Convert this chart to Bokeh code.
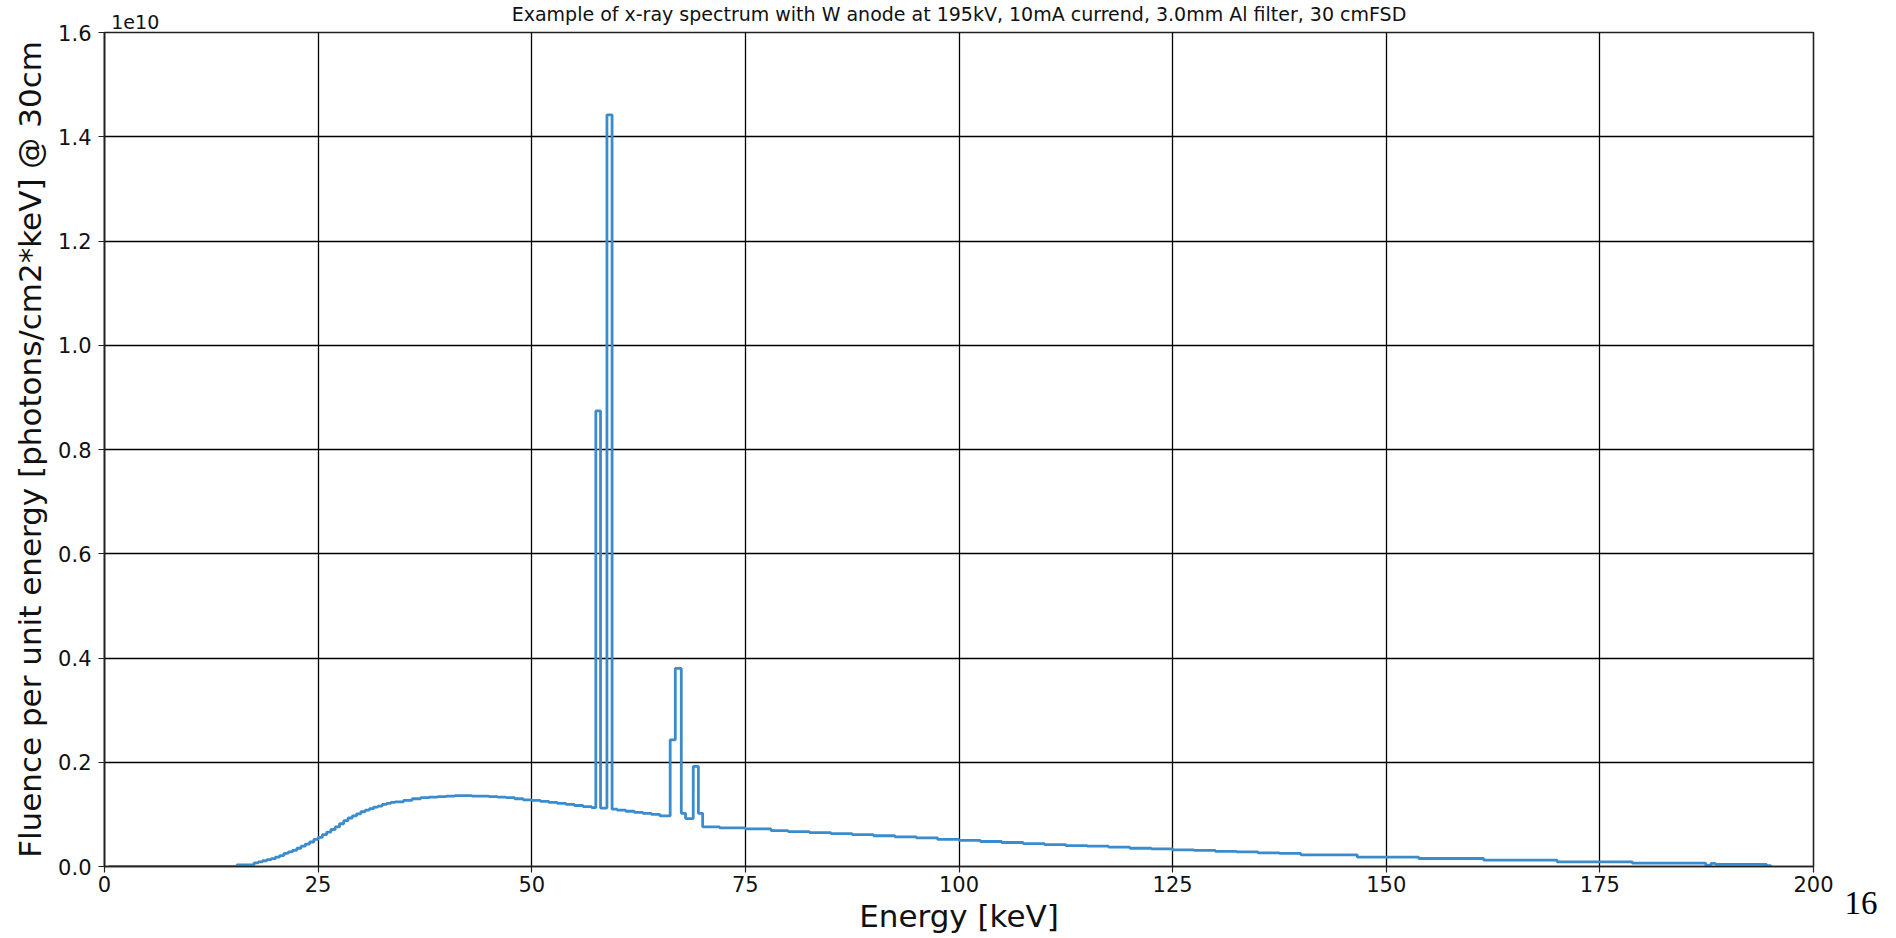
from bokeh.plotting import figure
from bokeh.models import Range1d, FixedTicker, LinearAxis, PrintfTickFormatter
from bokeh.embed import file_html
from bokeh.resources import INLINE

# ---- data (bin left edges in keV, fluence in units of 1e10 photons/cm2*keV) ----
energy_keV = [0.5, 15.5, 17.5, 18, 18.5, 19, 19.5, 20, 20.5, 21, 21.5, 22, 22.5, 23,
              23.5, 24, 24.5, 25, 25.5, 26, 26.5, 27, 27.5, 28, 28.5, 29, 29.5, 30,
              30.5, 31, 31.5, 32, 32.5, 33, 33.5, 34, 35, 36, 37, 38, 39, 40, 41, 42,
              43, 44, 45, 46, 47, 48, 49, 50, 51, 52, 53, 54, 55, 56, 57, 57.5, 58.05,
              58.8, 59.4, 60, 61, 62, 63, 64, 65, 66.2, 66.8, 67.5, 68, 68.9, 69.5,
              70, 72, 75, 78, 80, 82.5, 85, 87.5, 90, 92.5, 95, 97.5, 100, 102.5, 105,
              107.5, 110, 112.5, 115, 117.5, 120, 122.5, 125, 127.5, 130, 132.5, 135,
              137.5, 140, 146.6, 153.8, 161.4, 170, 178.8, 187.4, 188, 188.5, 194.5, 195]
fluence_1e10 = [0.0, 0.003, 0.007, 0.009, 0.011, 0.013, 0.015, 0.018, 0.021, 0.025,
                0.028, 0.031, 0.035, 0.039, 0.043, 0.047, 0.052, 0.056, 0.061, 0.066,
                0.071, 0.076, 0.082, 0.088, 0.093, 0.097, 0.101, 0.105, 0.108, 0.111,
                0.114, 0.116, 0.119, 0.121, 0.123, 0.124, 0.127, 0.130, 0.132, 0.133,
                0.134, 0.135, 0.136, 0.136, 0.135, 0.135, 0.134, 0.133, 0.132, 0.130,
                0.128, 0.127, 0.125, 0.123, 0.121, 0.119, 0.117, 0.115, 0.113, 0.874,
                0.112, 1.442, 0.110, 0.108, 0.106, 0.104, 0.102, 0.100, 0.097, 0.243,
                0.380, 0.102, 0.092, 0.192, 0.102, 0.076, 0.074, 0.072, 0.069, 0.067,
                0.065, 0.063, 0.061, 0.059, 0.057, 0.055, 0.052, 0.050, 0.048, 0.046,
                0.044, 0.042, 0.040, 0.039, 0.037, 0.035, 0.034, 0.032, 0.031, 0.029,
                0.028, 0.026, 0.025, 0.0224, 0.018, 0.0153, 0.0121, 0.009, 0.0064,
                0.002, 0.006, 0.0042, 0.0015, 0.0]

x_ticks = [0, 25, 50, 75, 100, 125, 150, 175, 200]
y_ticks = [0.0, 0.2, 0.4, 0.6, 0.8, 1.0, 1.2, 1.4, 1.6]

title_text = "Example of x-ray spectrum with W anode at 195kV, 10mA currend, 3.0mm Al filter, 30 cmFSD"
x_label = "Energy [keV]"
y_label = "Fluence per unit energy [photons/cm2*keV] @ 30cm"
offset_text = "1e10"
page_number = "16"

FONT = "DejaVu Sans"

p = figure(width=1880, height=938,
           x_range=Range1d(0, 200), y_range=Range1d(0, 1.6),
           output_backend="svg", toolbar_location=None,
           min_border_left=104, min_border_right=65, min_border_top=32,
           min_border_bottom=72)

p.background_fill_color = "white"
p.border_fill_color = "white"
p.outline_line_color = "#222222"
p.outline_line_width = 1.6

p.step(energy_keV, fluence_1e10, mode="after", line_color="#3a8ccc", line_width=2.8)

for ax in (p.xaxis[0], p.yaxis[0]):
    ax.axis_line_color = "#222222"
    ax.axis_line_width = 1.6
    ax.major_tick_line_color = "#222222"
    ax.major_tick_line_width = 1.2
    ax.major_tick_out = 6
    ax.major_tick_in = 0
    ax.minor_tick_line_color = None
    ax.major_label_text_font = FONT
    ax.major_label_text_font_size = "21px"
    ax.major_label_text_color = "#111111"
    ax.axis_label_text_font = FONT
    ax.axis_label_text_font_size = "31px"
    ax.axis_label_text_font_style = "normal"
    ax.axis_label_text_color = "#111111"

p.xaxis[0].ticker = FixedTicker(ticks=x_ticks)
p.yaxis[0].ticker = FixedTicker(ticks=y_ticks)
p.yaxis[0].formatter = PrintfTickFormatter(format="%.1f")
p.xaxis[0].axis_label = x_label
p.yaxis[0].axis_label = y_label
p.xaxis[0].major_label_standoff = 3
p.yaxis[0].major_label_standoff = 7
p.xaxis[0].axis_label_standoff = 3
p.yaxis[0].axis_label_standoff = 7

for g in (p.xgrid[0], p.ygrid[0]):
    g.grid_line_color = "black"
    g.grid_line_width = 1.3
    g.grid_line_alpha = 1.0
p.xgrid[0].ticker = FixedTicker(ticks=x_ticks)
p.ygrid[0].ticker = FixedTicker(ticks=y_ticks)

# top axis carries the scale-offset text "1e10" and the chart title
top = LinearAxis(ticker=FixedTicker(ticks=[3.6, 100]),
                 major_label_overrides={3.6: offset_text, 100: title_text + "\n"},
                 axis_line_color=None, major_tick_line_color=None,
                 minor_tick_line_color=None, major_tick_out=0, major_tick_in=0,
                 major_label_standoff=0,
                 major_label_text_font=FONT, major_label_text_font_size="19px",
                 major_label_text_color="#111111",
                 major_label_text_line_height=0.32)
p.add_layout(top, "above")

# right axis carries the slide page number under the bottom-right corner
right = LinearAxis(ticker=FixedTicker(ticks=[0]),
                   major_label_overrides={0: "\n" + page_number},
                   axis_line_color=None, major_tick_line_color=None,
                   minor_tick_line_color=None, major_tick_out=0, major_tick_in=0,
                   major_label_standoff=31,
                   major_label_text_font="Liberation Serif",
                   major_label_text_font_size="33px",
                   major_label_text_color="black",
                   major_label_text_line_height=2.0)
p.add_layout(right, "right")

open("out.html", "w").write(file_html(p, INLINE))
